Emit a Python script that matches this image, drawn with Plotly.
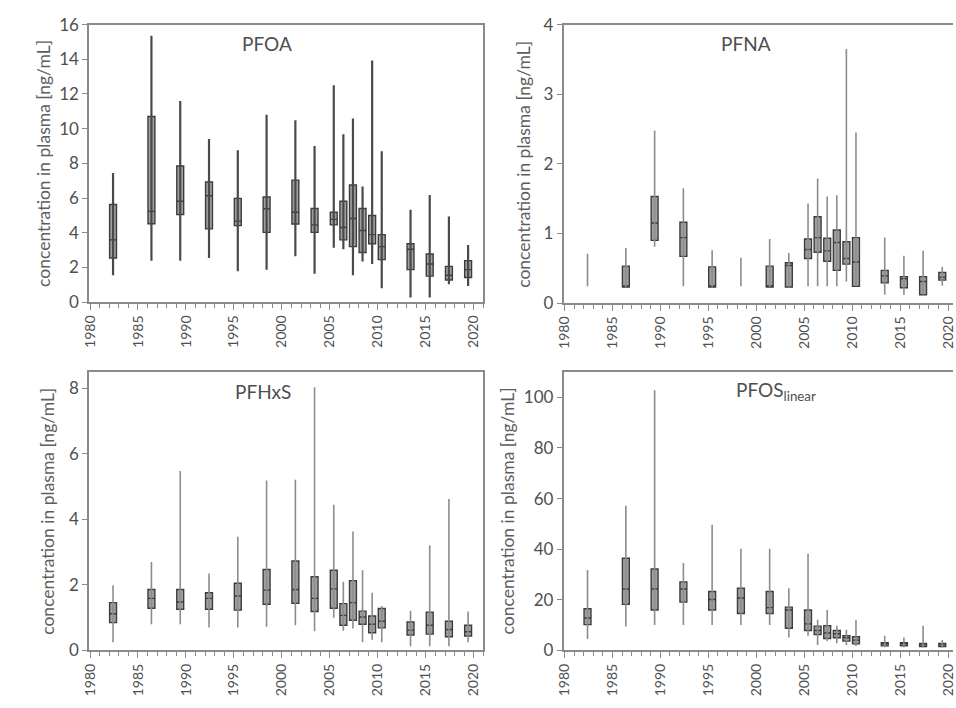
import plotly.graph_objects as go

W, H = 956, 708

years = [1982, 1986, 1989, 1992, 1995, 1998, 2001, 2003, 2005, 2006,
         2007, 2008, 2009, 2010, 2013, 2015, 2017, 2019]

# PFOA
pfoa_min = [1.55, 2.39, 2.39, 2.54, 1.78, 1.87, 2.64, 1.64, 3.14, 3.05, 1.55, 2.34, 2.20, 0.80, 0.26, 0.26, 1.03, 0.93]
pfoa_q1 = [2.54, 4.52, 5.05, 4.22, 4.41, 4.02, 4.50, 4.02, 4.45, 3.59, 3.20, 2.86, 3.36, 2.45, 1.87, 1.50, 1.27, 1.42]
pfoa_med = [3.59, 5.23, 5.81, 6.13, 4.67, 5.38, 5.18, 4.45, 4.77, 4.30, 4.82, 4.13, 3.89, 3.20, 3.05, 2.20, 1.55, 1.87]
pfoa_q3 = [5.63, 10.70, 7.85, 6.92, 5.98, 6.06, 7.03, 5.40, 5.18, 5.81, 6.75, 5.40, 4.99, 3.89, 3.36, 2.77, 2.06, 2.39]
pfoa_max = [7.44, 15.35, 11.60, 9.40, 8.75, 10.80, 10.49, 9.00, 12.50, 9.68, 10.58, 6.67, 13.93, 8.69, 5.33, 6.17, 4.93, 3.29]

# PFNA
pfna_min = [0.24, 0.23, 0.81, 0.24, 0.23, 0.24, 0.23, 0.23, 0.24, 0.24, 0.24, 0.24, 0.31, 0.24, 0.12, 0.12, 0.12, 0.25]
pfna_q1 = [None, 0.23, 0.90, 0.67, 0.23, None, 0.23, 0.23, 0.64, 0.73, 0.60, 0.47, 0.56, 0.24, 0.29, 0.22, 0.12, 0.33]
pfna_med = [None, 0.23, 1.15, 0.94, 0.23, None, 0.23, 0.54, 0.77, 0.94, 0.75, 0.87, 0.64, 0.59, 0.39, 0.35, 0.31, 0.37]
pfna_q3 = [None, 0.53, 1.53, 1.16, 0.52, None, 0.53, 0.58, 0.92, 1.24, 0.93, 1.05, 0.88, 0.94, 0.47, 0.38, 0.38, 0.44]
pfna_max = [0.71, 0.79, 2.48, 1.65, 0.76, 0.65, 0.92, 0.72, 1.43, 1.79, 1.53, 1.55, 3.65, 2.45, 0.94, 0.68, 0.75, 0.52]

# PFHxS
pfhxs_min = [0.25, 0.80, 0.80, 0.70, 0.70, 0.72, 0.77, 0.59, 1.00, 0.60, 0.67, 0.25, 0.33, 0.25, 0.13, 0.13, 0.13, 0.25]
pfhxs_q1 = [0.85, 1.29, 1.26, 1.26, 1.23, 1.41, 1.44, 1.19, 1.29, 0.77, 0.92, 0.80, 0.54, 0.69, 0.47, 0.50, 0.42, 0.44]
pfhxs_med = [1.12, 1.59, 1.48, 1.59, 1.66, 1.84, 1.86, 1.59, 1.88, 1.07, 1.46, 1.02, 0.80, 0.89, 0.62, 0.77, 0.64, 0.57]
pfhxs_q3 = [1.46, 1.86, 1.86, 1.76, 2.05, 2.47, 2.73, 2.25, 2.45, 1.43, 2.13, 1.20, 1.05, 1.28, 0.87, 1.17, 0.89, 0.77]
pfhxs_max = [1.99, 2.70, 5.48, 2.35, 3.47, 5.19, 5.21, 8.03, 4.45, 2.10, 3.63, 2.45, 1.76, 1.36, 1.21, 3.21, 4.62, 1.19]

# PFOS linear
pfos_min = [4.5, 9.5, 10.1, 10.1, 10.1, 10.1, 10.1, 5.1, 5.8, 2.2, 3.7, 2.8, 2.2, 1.8, 1.3, 1.3, 1.2, 1.2]
pfos_q1 = [10.2, 18.2, 16.0, 19.1, 16.0, 14.6, 14.6, 8.8, 7.9, 6.3, 4.7, 5.0, 3.7, 2.6, 1.8, 1.8, 1.5, 1.5]
pfos_med = [12.8, 24.3, 24.3, 24.3, 20.1, 20.7, 16.9, 16.0, 10.5, 7.9, 6.9, 6.6, 5.0, 4.1, 2.6, 2.6, 2.2, 2.2]
pfos_q3 = [16.5, 36.4, 32.2, 27.1, 23.3, 24.6, 23.3, 17.1, 16.0, 9.6, 9.8, 7.9, 5.8, 5.4, 3.1, 3.1, 2.8, 2.8]
pfos_max = [31.8, 57.2, 102.8, 34.5, 49.7, 40.2, 40.2, 24.6, 38.2, 12.1, 16.0, 9.8, 8.2, 12.0, 5.8, 5.1, 9.8, 4.1]

x_ticks = [1980, 1985, 1990, 1995, 2000, 2005, 2010, 2015, 2020]
y_title = "concentration in plasma [ng/mL]"

FONT = "Lato, 'Open Sans', sans-serif"
TXT = "#4f4f4f"
AXC = "#8a8a8a"

panels = [
    dict(title="PFOA", mn=pfoa_min, q1=pfoa_q1, md=pfoa_med, q3=pfoa_q3, mx=pfoa_max,
         yr=[0, 16], dt=2, px=(82, 481), py=(14, 300), wc="#4a4a4a", ww=2.2,
         tpos=(262, 33), ytx=36, xr=[1979.9, 2021.0], right=True),
    dict(title="PFNA", mn=pfna_min, q1=pfna_q1, md=pfna_med, q3=pfna_q3, mx=pfna_max,
         yr=[0, 4], dt=1, px=(562, 956), py=(14, 301), wc="#8c8c8c", ww=1.6,
         tpos=(747, 33), ytx=522, xr=[1979.9, 2020.52], right=False),
    dict(title="PFHxS", mn=pfhxs_min, q1=pfhxs_q1, md=pfhxs_med, q3=pfhxs_q3, mx=pfhxs_max,
         yr=[0, 8.5], dt=2, px=(82, 481), py=(372, 659), wc="#8c8c8c", ww=1.6,
         tpos=(258, 392), ytx=40, xr=[1979.9, 2021.0], right=True),
    dict(title="PFOS<sub>linear</sub>", mn=pfos_min, q1=pfos_q1, md=pfos_med, q3=pfos_q3, mx=pfos_max,
         yr=[0, 110], dt=20, px=(562, 956), py=(372, 659), wc="#8c8c8c", ww=1.6,
         tpos=(777, 392), ytx=505, xr=[1979.9, 2020.52], right=False),
]

OFFSET = 0.4  # boxes sit inside the year interval

fig = go.Figure()
annotations = []
layout = {}
for i, p in enumerate(panels, start=1):
    xa = "x" if i == 1 else f"x{i}"
    ya = "y" if i == 1 else f"y{i}"
    pos = [y + OFFSET for y in years]
    wx, wy = [], []
    for xp, lo, hi in zip(pos, p["mn"], p["mx"]):
        wx += [xp, xp, None]
        wy += [lo, hi, None]
    fig.add_trace(go.Scatter(x=wx, y=wy, mode="lines", xaxis=xa, yaxis=ya,
                             line=dict(color=p["wc"], width=p["ww"]),
                             showlegend=False, hoverinfo="skip"))
    bx, b1, bm, b3 = [], [], [], []
    for xp, a, m, c in zip(pos, p["q1"], p["md"], p["q3"]):
        if a is None:
            continue
        bx.append(xp); b1.append(a); bm.append(m); b3.append(c)
    fig.add_trace(go.Box(x=bx, q1=b1, median=bm, q3=b3, lowerfence=b1, upperfence=b3,
                         xaxis=xa, yaxis=ya, width=0.72, whiskerwidth=0,
                         fillcolor="#a0a0a0", line=dict(color="#3c3c3c", width=1.4),
                         boxpoints=False, showlegend=False, hoverinfo="skip"))

    xd = [p["px"][0] / W, p["px"][1] / W]
    yd = [1 - p["py"][1] / H, 1 - p["py"][0] / H]
    xkey = "xaxis" if i == 1 else f"xaxis{i}"
    ykey = "yaxis" if i == 1 else f"yaxis{i}"
    layout[xkey] = dict(domain=xd, anchor=ya, range=p["xr"], tickvals=x_ticks,
                        ticktext=[str(t) for t in x_ticks], tickangle=-90,
                        ticklabeloverflow="allow",
                        ticks="outside", ticklen=6, tickwidth=1.3, tickcolor=AXC,
                        minor=dict(dtick=1, tick0=1980, ticks="outside", ticklen=4,
                                   tickwidth=1.1, tickcolor=AXC),
                        showline=True, linecolor=AXC, linewidth=1.5, mirror=True,
                        showgrid=False, zeroline=False,
                        tickfont=dict(family=FONT, size=14, color=TXT))
    layout[ykey] = dict(domain=yd, anchor=xa, range=p["yr"], dtick=p["dt"], tick0=0,
                        ticks="outside", ticklen=5, tickwidth=1.3, tickcolor=AXC,
                        showline=True, linecolor=AXC, linewidth=1.5,
                        mirror=p["right"], showgrid=False, zeroline=False,
                        tickfont=dict(family=FONT, size=17, color=TXT))
    annotations.append(dict(text=p["title"], x=p["tpos"][0] / W, y=1 - p["tpos"][1] / H,
                            xref="paper", yref="paper", showarrow=False,
                            xanchor="center", yanchor="middle",
                            font=dict(family=FONT, size=19, color=TXT)))
    annotations.append(dict(text=y_title, x=p["ytx"] / W,
                            y=1 - (p["py"][0] + p["py"][1]) / 2 / H,
                            xref="paper", yref="paper", showarrow=False, textangle=-90,
                            xanchor="center", yanchor="middle",
                            font=dict(family=FONT, size=17.5, color="#5e5e5e")))

fig.update_layout(width=W, height=H, margin=dict(l=0, r=0, t=0, b=0),
                  paper_bgcolor="white", plot_bgcolor="white",
                  annotations=annotations, showlegend=False, **layout)

fig.write_html("out.html")
